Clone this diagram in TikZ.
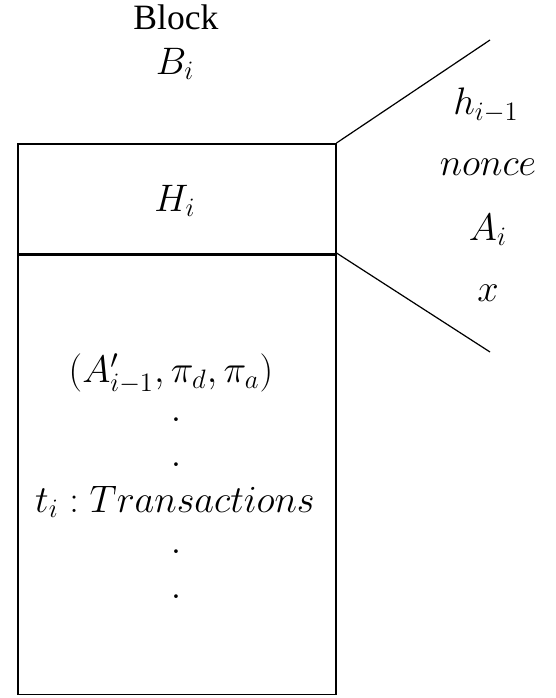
\documentclass[tikz,border=0pt]{standalone}
\usepackage{fontspec}
\setmainfont{Liberation Serif}
\newcommand{\mysz}{\fontsize{17.28}{21}\selectfont}
\begin{document}
\begin{tikzpicture}[x=0.451pt,y=-0.451pt,
  lbl/.style={inner sep=0pt},
  cell/.style={draw,line width=0.7pt,inner sep=0pt,anchor=north west},
  ray/.style={line width=0.55pt}]
\useasboundingbox (0,0) rectangle (555,698);
\node[cell,minimum width=143.4pt,minimum height=49.6pt] (head) at (17,143) {};
\node[cell,minimum width=143.4pt,minimum height=198.7pt] (body) at (17,253) {};
\draw[line width=1pt] (head.south west) -- (head.south east);
\node[lbl] (blk) at (176,17) {\fontsize{16.06}{19}\selectfont Block};
\node[lbl] (bi) at (175,64) {\mysz$B_i$};
\node[lbl] (hi) at (175,201) {\mysz$H_i$};
\node[lbl] (tup) at (171,374) {\mysz$(A'_{i-1},\pi_d,\pi_a)$};
\node[lbl] (d1) at (176,420) {\mysz$.$};
\node[lbl] (d2) at (176,465) {\mysz$.$};
\node[lbl] (tx) at (175,502) {\mysz$t_i:Transactions$};
\node[lbl] (d3) at (176,552) {\mysz$.$};
\node[lbl] (d4) at (176,597) {\mysz$.$};
\node[lbl] (hprev) at (486,105) {\mysz$h_{i-1}$};
\node[lbl] (nonce) at (488,167) {\mysz$nonce$};
\node[lbl] (ai) at (488,230) {\mysz$A_i$};
\node[lbl] (x) at (488,293) {\mysz$x$};
\coordinate (up) at (490,40);
\coordinate (down) at (490,352);
\draw[ray] (head.north east) -- (up);
\draw[ray] (body.north east) -- (down);
\end{tikzpicture}
\end{document}
